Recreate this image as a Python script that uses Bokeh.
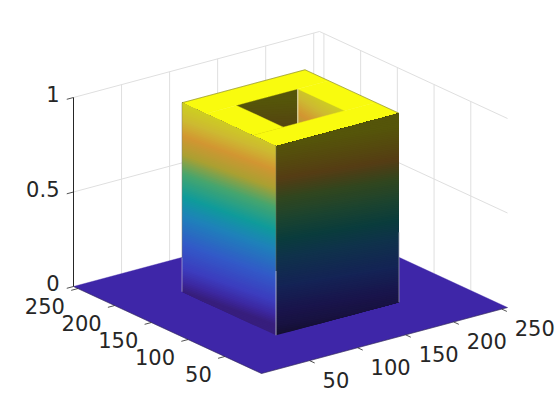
from bokeh.plotting import figure
from bokeh.models import Range1d, ColumnDataSource
from bokeh.core.properties import value
from bokeh.embed import file_html
from bokeh.resources import INLINE
import numpy as np

# data
x_ticks = [50, 100, 150, 200, 250]
y_ticks = [50, 100, 150, 200, 250]
z_ticks = [0, 0.5, 1]
z_labels = ["0", "0.5", "1"]
limit = 256
box_lo, box_hi = 64, 192
hole_lo, hole_hi = 96, 160
height = 1.0
color_z = [0.0, 0.05, 0.12, 0.25, 0.40, 0.50, 0.62, 0.72, 0.82, 0.90, 1.0]
lit_r = [55, 60, 60, 50, 30, 15, 70, 170, 210, 205, 205]
lit_g = [30, 40, 60, 90, 130, 155, 165, 160, 150, 185, 210]
lit_b = [125, 160, 190, 200, 185, 155, 110, 50, 50, 50, 30]
dark_r = [20, 24, 25, 20, 15, 10, 30, 50, 85, 85, 85]
dark_g = [15, 18, 20, 35, 50, 60, 68, 70, 60, 72, 85]
dark_b = [50, 65, 75, 85, 75, 60, 45, 30, 20, 15, 10]
top_color = "#f9fb0e"
floor_color = "#3e26a8"
ink = "#262626"
grid_color = "#dfdfdf"

# projection of the view
ORIGIN = np.array([261.0, 373.0])
EX = np.array([246.0, -66.0]) / limit
EY = np.array([-188.0, -87.0]) / limit
EZ = np.array([0.0, -189.0])


def P(x, y, z=0.0):
    return ORIGIN + EX * x + EY * y + EZ * z


def hexcol(r, g, b, t):
    t = float(np.clip(t, 0, 1))
    return "#%02x%02x%02x" % tuple(int(round(np.interp(t, color_z, c))) for c in (r, g, b))


p = figure(width=560, height=420, output_backend="svg", toolbar_location=None,
           x_range=Range1d(0, 560), y_range=Range1d(420, 0),
           x_axis_type=None, y_axis_type=None, min_border=0,
           outline_line_color=None, background_fill_color="white")
p.grid.visible = False


def line(a, b, color, w=1.0, alpha=1.0):
    p.line([a[0], b[0]], [a[1], b[1]], line_color=color, line_width=w, line_alpha=alpha)


def quad(pts, color):
    p.patch([q[0] for q in pts], [q[1] for q in pts], fill_color=color, line_color=color, line_width=0.4)


# back panes
for x in x_ticks:
    line(P(x, limit, 0), P(x, limit, 1), grid_color)
for y in y_ticks:
    line(P(limit, y, 0), P(limit, y, 1), grid_color)
for z in z_ticks[1:]:
    line(P(0, limit, z), P(limit, limit, z), grid_color)
    line(P(limit, limit, z), P(limit, 0, z), grid_color)

# floor
quad([P(0, 0), P(limit, 0), P(limit, limit), P(0, limit)], floor_color)


def wall(a, b, zlo, zhi, tables, tilt, levels=110):
    """Vertical wall from plan point a to plan point b: each level is painted over the one below."""
    a = np.array(a, float)
    b = np.array(b, float)
    tmin = zlo + min(0, tilt)
    tmax = zhi + max(0, tilt)
    ts = np.linspace(tmin, tmax, levels)
    xs, ys, cols = [], [], []
    for t in ts:
        pts = []
        un = np.linspace(0, 1, 9)
        for u in un:
            z = np.clip(t - tilt * u, zlo, zhi)
            pts.append(P(*(a + (b - a) * u), z))
        if all(abs(np.clip(t - tilt * u, zlo, zhi) - zhi) < 1e-9 for u in un):
            continue
        for u in un[::-1]:
            pts.append(P(*(a + (b - a) * u), zhi))
        xs.append([c[0] for c in pts])
        ys.append([c[1] for c in pts])
        cols.append(hexcol(*tables, t))
    src = ColumnDataSource(dict(xs=xs, ys=ys, c=cols))
    p.patches("xs", "ys", source=src, fill_color="c", line_color=None)


lit = (lit_r, lit_g, lit_b)
dark = (dark_r, dark_g, dark_b)

# inner walls seen through the hole
wall((hole_hi, hole_lo), (hole_hi, hole_hi), 0.7, height, lit, -0.05, levels=30)
wall((hole_lo, hole_hi), (hole_hi, hole_hi), 0.7, height, dark, 0.07, levels=30)
line(P(hole_hi, hole_hi, 1), P(hole_hi, hole_hi, 0.8), "#e6dcaa", 1.2)

# top ring
quad([P(box_lo, box_lo, 1), P(box_hi, box_lo, 1), P(box_hi, hole_lo, 1), P(box_lo, hole_lo, 1)], top_color)
quad([P(box_lo, hole_hi, 1), P(box_hi, hole_hi, 1), P(box_hi, box_hi, 1), P(box_lo, box_hi, 1)], top_color)
quad([P(box_lo, hole_lo, 1), P(hole_lo, hole_lo, 1), P(hole_lo, hole_hi, 1), P(box_lo, hole_hi, 1)], top_color)
quad([P(hole_hi, hole_lo, 1), P(box_hi, hole_lo, 1), P(box_hi, hole_hi, 1), P(hole_hi, hole_hi, 1)], top_color)

# outer walls
wall((box_lo, box_hi), (box_lo, box_lo), 0, height, lit, -0.05)
wall((box_lo, box_lo), (box_hi, box_lo), 0, height, dark, 0.07)

# seams and edges
line(P(box_lo, box_lo, 0), P(box_lo, box_lo, 0.34), "#c8c8d8", 1.0, 0.8)
line(P(box_lo, box_hi, 0), P(box_lo, box_hi, 0.18), "#c8c8d8", 1.0, 0.6)
line(P(box_hi, box_lo, 0), P(box_hi, box_lo, 0.37), "#a8a8b8", 1.0, 0.7)
line(P(box_lo, box_lo, 1), P(box_lo, box_lo, 0.34), "#707050", 1.0, 0.5)
line(P(box_lo, box_hi, 1), P(box_lo, box_hi, 0.18), "#808070", 1.0, 0.5)
line(P(box_lo, box_hi, 1), P(box_hi, box_hi, 1), "#707030", 0.7, 0.8)
line(P(box_hi, box_hi, 1), P(box_hi, box_lo, 1), "#707030", 0.7, 0.8)

# axes
line(P(0, limit, 0), P(0, limit, 1), ink, 1.0)
line(P(0, 0, 0), P(limit, 0, 0), ink, 0.6, 0.7)
line(P(0, 0, 0), P(0, limit, 0), ink, 0.6, 0.7)

font = value("DejaVu Sans")
size = "21px"
for x in x_ticks:
    a = P(x, 0, 0)
    line(a, P(x, -7, 0), ink, 0.8)
    p.text([a[0] + 13], [a[1] + 19], text=[str(x)], text_font=font, text_font_size=size,
           text_color=ink, text_align="left", text_baseline="middle")
for y in y_ticks:
    a = P(0, y, 0)
    line(a, P(-7, y, 0), ink, 0.8)
    p.text([a[0] - 13], [a[1] + 17.5], text=[str(y)], text_font=font, text_font_size=size,
           text_color=ink, text_align="right", text_baseline="middle")
for z, lab in zip(z_ticks, z_labels):
    a = P(0, limit, z)
    line(a, P(-7, limit, z), ink, 0.8)
    p.text([a[0] - 14], [a[1] - 3.5], text=[lab], text_font=font, text_font_size=size,
           text_color=ink, text_align="right", text_baseline="middle")

open("out.html", "w").write(file_html(p, INLINE))
